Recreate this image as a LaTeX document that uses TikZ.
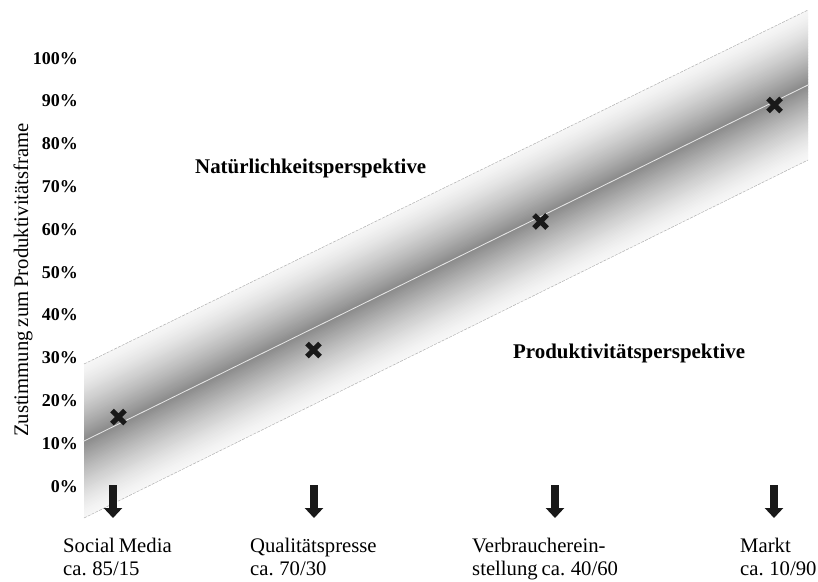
\documentclass[tikz,border=0pt]{standalone}
\usepackage{fontspec}
\setmainfont[WordSpace=0.75]{Liberation Serif}
\usetikzlibrary{arrows.meta}

\begin{document}
\begin{tikzpicture}[x=1pt,y=1pt,
  pct/.style={font=\fontsize{18}{20}\selectfont\bfseries, anchor=base east, inner sep=0pt},
  perspective/.style={font=\fontsize{20.9}{23}\selectfont\bfseries, anchor=base west, inner sep=0pt},
  caption/.style={font=\fontsize{20.7}{23}\selectfont, anchor=base west, inner sep=0pt},
  axistitle/.style={font=\fontsize{20.7}{23}\selectfont, rotate=90, anchor=base, inner sep=0pt},
  bandedge/.style={draw=black!30, line width=0.5pt, dash pattern=on 3pt off 1.2pt},
  trend/.style={draw=black!40, line width=0.35pt, double=black!8, double distance=0.7pt},
  downarrow/.style={draw=black!90, line width=8pt, -{Triangle[width=18pt,length=10pt]}},
  xmark/.pic={\draw[line width=5pt, black!90] (-6.5,-6.5) -- (6.5,6.5) (-6.5,6.5) -- (6.5,-6.5);}
]
\useasboundingbox (0,0) rectangle (818,-581);

% corners of the shaded corridor and its centre line
\coordinate (TL) at (84,-364);
\coordinate (TR) at (808,-10);
\coordinate (BR) at (808,-160);
\coordinate (BL) at (84,-518);
\coordinate (CL) at (84,-441);
\coordinate (CR) at (808,-85);

% corridor: thin parallel strips, light at the edges, darkest along the centre
\foreach \i in {0,...,99} {
  \pgfmathsetmacro\ta{\i/100}
  \pgfmathsetmacro\tb{min(1,(\i+1.6)/100)}
  \pgfmathsetmacro\s{1-abs(2*(\i+0.5)/100-1)}
  \pgfmathsetmacro\k{3+43*\s^1.35}
  \fill[black!\k] (84,{-364-154*\ta}) -- (808,{-10-150*\ta})
                  -- (808,{-10-150*\tb}) -- (84,{-364-154*\tb}) -- cycle;
}
\draw[bandedge] (TL) -- (TR);
\draw[bandedge] (BL) -- (BR);
\draw[trend] (CL) -- (CR);

% vertical axis
\node[axistitle] (ytitle) at (28,-280) {Zustimmung zum Produktivitätsframe};
\foreach \v/\yb in {100/64, 90/106, 80/149, 70/192, 60/235, 50/278,
                    40/320, 30/363, 20/406, 10/449, 0/492}
  \node[pct] (p\v) at (78,-\yb) {\v\%};

% the two perspectives
\node[perspective] (natur) at (195,-173) {Natürlichkeitsperspektive};
\node[perspective] (prod) at (513,-358) {Produktivitätsperspektive};

% positions of the four arenas
\pic at (118.5,-417) {xmark};
\pic at (313.5,-350) {xmark};
\pic at (540.5,-221.5) {xmark};
\pic at (774.5,-105) {xmark};

% arrows pointing to the arena captions
\foreach \n/\x in {1/113, 2/314, 3/555, 4/774} {
  \coordinate (a\n top) at (\x,-485);
  \coordinate (a\n tip) at (\x,-518);
  \draw[downarrow] (a\n top) -- (a\n tip);
}

% arena captions
\node[caption] (social) at (63,-552)
  {\begin{tabular}[t]{@{}l@{}}Social Media\\ca. 85/15\end{tabular}};
\node[caption] (qual) at (250,-552)
  {\begin{tabular}[t]{@{}l@{}}Qualitätspresse\\ca. 70/30\end{tabular}};
\node[caption] (verbr) at (472,-552)
  {\begin{tabular}[t]{@{}l@{}}Verbraucherein-\\stellung ca. 40/60\end{tabular}};
\node[caption] (markt) at (740,-552)
  {\begin{tabular}[t]{@{}l@{}}Markt\\ca. 10/90\end{tabular}};
\end{tikzpicture}
\end{document}
